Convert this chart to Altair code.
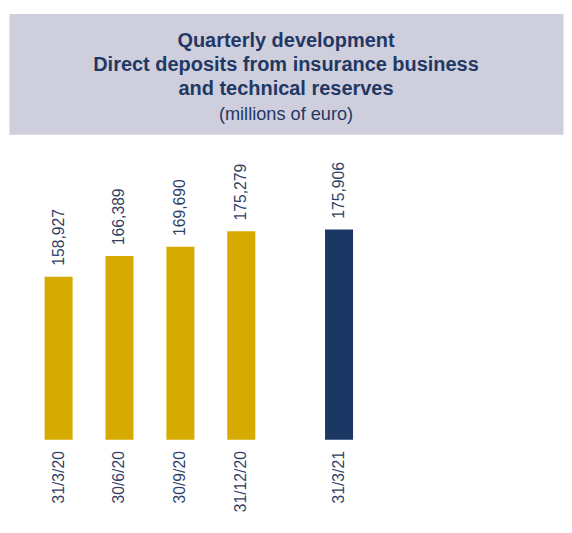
import altair as alt
import pandas as pd

quarters = ["31/3/20", "30/6/20", "30/9/20", "31/12/20"]
quarter_values = [158927, 166389, 169690, 175279]
latest = ["31/3/21"]
latest_values = [175906]

title_lines = ["Quarterly development",
               "Direct deposits from insurance business",
               "and technical reserves"]
subtitle = "(millions of euro)"

GOLD = "#d6aa00"
NAVY = "#1b3764"
TEXT = "#1f3864"
LABEL = "#2f4167"
FONT = "Liberation Sans"
BASE = 100000

yscale = alt.Scale(domain=[BASE, 205000], zero=False, nice=False)


def bars(cats, vals, color, width, p_inner, p_outer):
    df = pd.DataFrame({"date": cats, "value": vals,
                       "label": [f"{v:,}" for v in vals]})
    xenc = alt.X("date:N", sort=cats, title=None,
                 scale=alt.Scale(paddingInner=p_inner, paddingOuter=p_outer),
                 axis=alt.Axis(labelAngle=270, ticks=False, domain=False,
                               labelPadding=11, labelFontSize=16,
                               labelColor=LABEL, labelFont=FONT,
                               grid=False))
    base = alt.Chart(df).encode(x=xenc)
    b = base.mark_bar(color=color).encode(
        y=alt.Y("value:Q", scale=yscale, axis=None),
        y2=alt.datum(BASE))
    t = base.mark_text(angle=270, align="left", baseline="middle", dx=11,
                       fontSize=16, color=LABEL, font=FONT).encode(
        y=alt.Y("value:Q", scale=yscale, axis=None), text="label:N")
    return (b + t).properties(width=width, height=296)


left = bars(quarters, quarter_values, GOLD, 287, 0.54, 0.585)
right = bars(latest, latest_values, NAVY, 62, 0.54, 0.27)

body = alt.hconcat(left, right, spacing=16).resolve_scale(x="independent")

hdr_df = pd.DataFrame({"t": [title_lines], "s": [subtitle]})
hbase = alt.Chart(hdr_df)
h1 = hbase.mark_text(font=FONT, fontSize=20.3, fontWeight="bold", color=TEXT,
                     align="center", baseline="alphabetic",
                     lineHeight=24.7).encode(
    x=alt.value(282), y=alt.value(34), text="t")
h2 = hbase.mark_text(font=FONT, fontSize=18.5, color=TEXT,
                     align="center", baseline="alphabetic").encode(
    x=alt.value(282), y=alt.value(108), text="s")
header = (h1 + h2).properties(
    width=564, height=123,
    view=alt.ViewBackground(fill="#cfcedd", stroke="transparent"))

chart = alt.vconcat(header, body, spacing=13).properties(
    padding={"left": 0, "top": 0, "right": 0, "bottom": 0},
    background="white"
).configure_view(stroke="transparent")

chart.save("out.html", embed_options={"renderer": "svg", "actions": False})
